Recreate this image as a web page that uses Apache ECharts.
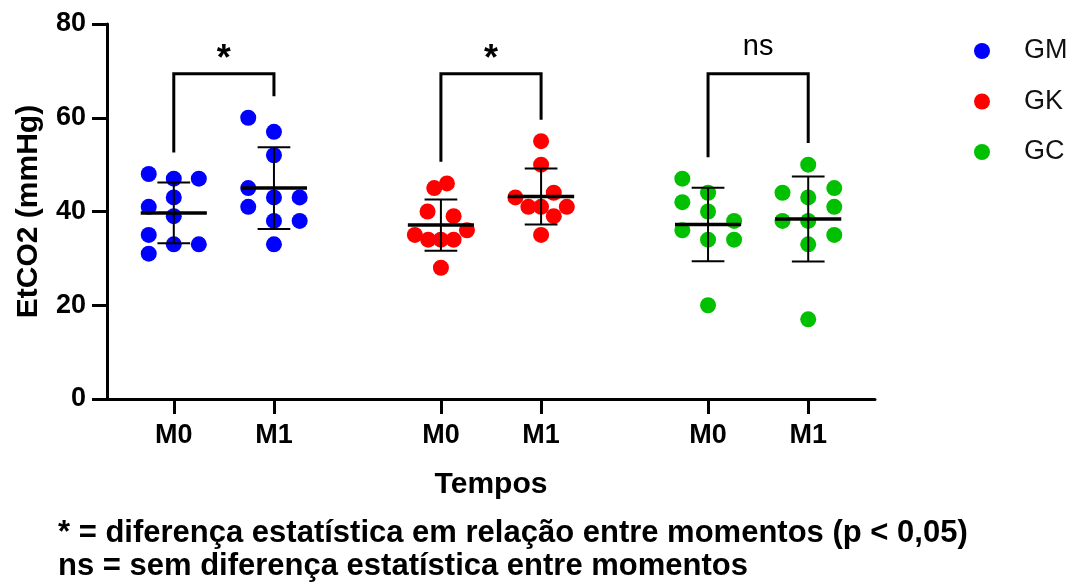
<!DOCTYPE html>
<html>
<head>
<meta charset="utf-8">
<script src="https://cdn.jsdelivr.net/npm/echarts@6/dist/echarts.min.js"></script>
<style>html,body{margin:0;padding:0;background:#fff;}#chart{width:1076px;height:585px;}</style>
</head>
<body>
<div id="chart"></div>
<script>
// ---- data ----
const groups = ['GM', 'GK', 'GC'];
const moments = ['M0', 'M1'];
const yTicks = [0, 20, 40, 60, 80];
const sigLabels = ['*', '*', 'ns'];

const gmM0 = [48, 47, 47, 43, 41, 39, 35, 33, 33, 31];
const gmM1 = [60, 57, 52, 45, 41, 43, 43, 38, 38, 33];
const gkM0 = [45, 46, 40, 39, 36, 35, 34, 34, 34, 28];
const gkM1 = [55, 50, 44, 43, 41, 41, 41, 39, 35];
const gcM0 = [47, 44, 42, 40, 38, 36, 34, 34, 20];
const gcM1 = [50, 44, 45, 43, 41, 38, 38, 35, 33, 17];

// ---- layout (horizontal spreading of points, axis units) ----
const jitGmM0 = [-0.75, 0, 0.75, 0, -0.75, 0, -0.75, 0, 0.75, -0.75];
const jitGmM1 = [-0.77, 0, 0, -0.77, -0.77, 0, 0.77, 0, 0.77, 0];
const jitGkM0 = [-0.2, 0.18, -0.4, 0.38, 0.78, -0.78, -0.38, 0, 0.38, 0];
const jitGkM1 = [0, 0, 0.38, -0.77, -0.38, 0, 0.77, 0.38, 0];
const jitGcM0 = [-0.77, 0, -0.77, 0, 0.78, -0.77, 0, 0.78, 0];
const jitGcM1 = [0, -0.77, 0.78, 0, 0.78, -0.77, 0, 0.78, 0, 0];
const xPos = [2, 5, 10, 13, 18, 21];
const colors = ['#0000ff', '#ff0000', '#00c000'];
const FONT = '"Liberation Sans", Arial, sans-serif';

const sets = [
  [gmM0, jitGmM0], [gmM1, jitGmM1],
  [gkM0, jitGkM0], [gkM1, jitGkM1],
  [gcM0, jitGcM0], [gcM1, jitGcM1]
];
function mean(a) { return a.reduce((s, v) => s + v, 0) / a.length; }
function sd(a) { const m = mean(a); return Math.sqrt(a.reduce((s, v) => s + (v - m) * (v - m), 0) / (a.length - 1)); }

const scatterSeries = groups.map((g, gi) => {
  const data = [];
  for (let k = 0; k < 2; k++) {
    const idx = gi * 2 + k;
    const [vals, jit] = sets[idx];
    vals.forEach((v, i) => data.push([xPos[idx] + jit[i], v]));
  }
  return {
    name: g, type: 'scatter', data: data, symbolSize: 16,
    itemStyle: { color: colors[gi], opacity: 1 }, z: 2
  };
});

const barData = sets.map((s, idx) => [xPos[idx], mean(s[0]), sd(s[0])]);
const bracketData = groups.map((g, gi) => {
  const a = sets[gi * 2][0], b = sets[gi * 2 + 1][0];
  return [xPos[gi * 2], xPos[gi * 2 + 1], Math.max(...a) + 4.6, Math.max(...b) + 4.6, 69.4, gi];
});
const tickLabelMap = {};
xPos.forEach((p, i) => { tickLabelMap[p] = moments[i % 2]; });

const chart = echarts.init(document.getElementById('chart'));
chart.setOption({
  animation: false,
  backgroundColor: '#fff',
  grid: { left: 107, right: 201, top: 24, bottom: 186, outerBoundsMode: 'none', containLabel: false },
  legend: {
    data: groups, orient: 'vertical', left: 969, top: 31, icon: 'circle',
    itemWidth: 16, itemHeight: 16, itemGap: 20.5,
    textStyle: { fontFamily: FONT, fontSize: 27, color: '#111', lineHeight: 30, padding: [0, 0, 0, 29] }
  },
  xAxis: {
    type: 'value', min: 0, max: 23,
    name: 'Tempos', nameLocation: 'middle', nameGap: 71,
    nameTextStyle: { fontFamily: FONT, fontSize: 30, fontWeight: 'bold', color: '#000' },
    axisLine: { show: true, lineStyle: { color: '#000', width: 3 } },
    axisTick: { show: true, length: 15, lineStyle: { color: '#000', width: 3 }, customValues: xPos },
    axisLabel: {
      show: true, customValues: xPos, margin: 23,
      fontFamily: FONT, fontSize: 27, fontWeight: 'bold', color: '#000',
      formatter: v => tickLabelMap[v] || ''
    },
    splitLine: { show: false }
  },
  yAxis: {
    type: 'value', min: 0, max: 80, interval: 20,
    name: 'EtCO2 (mmHg)', nameLocation: 'middle', nameGap: 63, nameRotate: 90,
    nameTextStyle: { fontFamily: FONT, fontSize: 30, fontWeight: 'bold', color: '#000' },
    axisLine: { show: true, lineStyle: { color: '#000', width: 3 } },
    axisTick: { show: true, length: 15, lineStyle: { color: '#000', width: 3 } },
    axisLabel: {
      margin: 21, fontFamily: FONT, fontSize: 27, fontWeight: 'bold', color: '#000',
      formatter: v => (yTicks.indexOf(v) >= 0 ? String(v) : '')
    },
    splitLine: { show: false }
  },
  series: scatterSeries.concat([
    {
      type: 'custom', name: 'meanSD', data: barData, z: 5, silent: true,
      encode: { x: 0, y: 1 },
      renderItem: function (params, api) {
        const x = api.value(0), m = api.value(1), s = api.value(2);
        const unit = api.size([1, 0])[0];
        const pm = api.coord([x, m]), pt = api.coord([x, m + s]), pb = api.coord([x, m - s]);
        const cap = unit * 0.49, half = unit * 0.99;
        const st = { stroke: '#000', lineWidth: 2 };
        return {
          type: 'group', children: [
            { type: 'line', shape: { x1: pt[0], y1: pt[1], x2: pb[0], y2: pb[1] }, style: st },
            { type: 'line', shape: { x1: pt[0] - cap, y1: pt[1], x2: pt[0] + cap, y2: pt[1] }, style: st },
            { type: 'line', shape: { x1: pb[0] - cap, y1: pb[1], x2: pb[0] + cap, y2: pb[1] }, style: st },
            { type: 'line', shape: { x1: pm[0] - half, y1: pm[1], x2: pm[0] + half, y2: pm[1] }, style: { stroke: '#000', lineWidth: 3.5 } }
          ]
        };
      }
    },
    {
      type: 'custom', name: 'brackets', data: bracketData, z: 5, silent: true,
      encode: { x: [0, 1], y: [2, 3, 4] },
      renderItem: function (params, api) {
        const x0 = api.value(0), x1 = api.value(1), b0 = api.value(2), b1 = api.value(3), top = api.value(4);
        const lab = sigLabels[api.value(5)];
        const pA = api.coord([x0, b0]), pB = api.coord([x0, top]), pC = api.coord([x1, top]), pD = api.coord([x1, b1]);
        const isStar = lab === '*';
        const pL = api.coord([(x0 + x1) / 2, isStar ? 72.2 : 75.0]);
        return {
          type: 'group', children: [
            { type: 'polyline', shape: { points: [pA, pB, pC, pD] }, style: { stroke: '#000', lineWidth: 3, fill: null } },
            {
              type: 'text', x: pL[0], y: pL[1],
              style: {
                text: lab, fill: '#000', align: 'center', verticalAlign: 'middle',
                textAlign: 'center', textVerticalAlign: 'middle',
                font: (isStar ? 'bold 36px ' : '29px ') + FONT
              }
            }
          ]
        };
      }
    }
  ]),
  graphic: [
    {
      type: 'text', x: 58, y: 533,
      style: { text: '* = diferença estatística em relação entre momentos (p < 0,05)', font: 'bold 31px ' + FONT, fill: '#000', verticalAlign: 'middle', textVerticalAlign: 'middle' }
    },
    {
      type: 'text', x: 58, y: 566,
      style: { text: 'ns = sem diferença estatística entre momentos', font: 'bold 31px ' + FONT, fill: '#000', verticalAlign: 'middle', textVerticalAlign: 'middle' }
    }
  ]
});
</script>
</body>
</html>
